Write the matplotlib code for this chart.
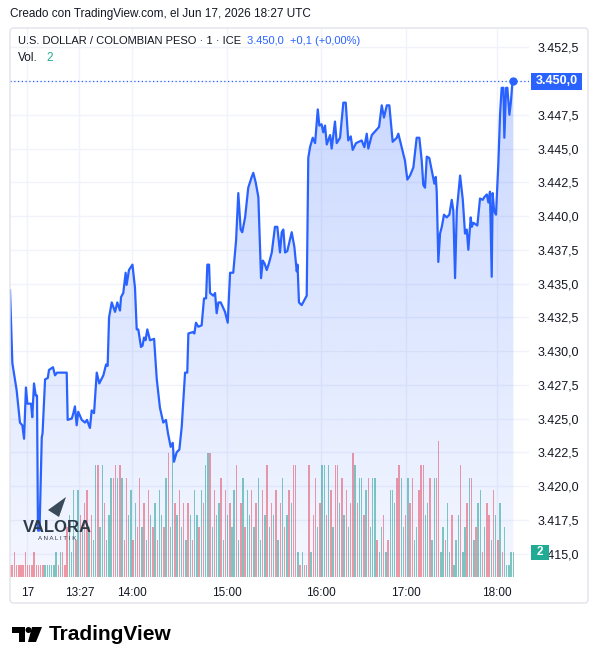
import numpy as np
import matplotlib
matplotlib.use("Agg")
import matplotlib.pyplot as plt
from matplotlib.patches import Rectangle, Polygon, Ellipse, FancyBboxPatch
from matplotlib.transforms import blended_transform_factory

plt.rcParams['font.family'] = ['Liberation Sans', 'DejaVu Sans']

# bar clock (minutes of trading since the first bar shown) and close price
t = [0, 1.5, 4.2, 6.3, 7.8, 8.9, 10.1, 11.0, 13.3, 14.1, 15.2, 16.3, 17.1, 17.7, 18.7,
     20.1, 20.6, 22.2, 23.9, 24.7, 27.2, 28.5, 29.8, 35.9, 36.5, 39.1, 39.9, 41.1, 42.2,
     43.2, 45.4, 47.5, 48.7, 50.6, 51.7, 53.2, 54.9, 56.5, 59.1, 60.8, 61.8, 62.7, 64.4,
     66.5, 67.9, 69.6, 70.3, 71.7, 73.2, 73.8, 75.3, 77.5, 79.1, 80.2, 81.2, 82.9, 83.9,
     84.8, 85.8, 86.9, 88.6, 91.2, 92.9, 94.9, 97.0, 98.7, 100.0, 101.7, 103.0, 103.8,
     105.5, 107.2, 108.7, 110.8, 112.2, 112.9, 115.6, 116.7, 117.7, 119.2, 121.3, 122.8,
     124.1, 124.9, 126.0, 126.6, 128.7, 129.8, 130.8, 131.9, 133.4, 136.1, 137.8, 139.3,
     141.3, 143.1, 144.5, 146.0, 147.0, 148.8, 150.8, 153.0, 154.0, 155.5, 157.2, 158.9,
     160.0, 161.1, 162.5, 163.9, 165.7, 167.7, 169.2, 170.9, 172.0, 173.0, 174.1, 175.5,
     178.3, 180.0, 181.5, 182.0, 182.9, 184.6, 187.8, 188.8, 189.9, 191.6, 193.1, 194.8,
     195.8, 197.2, 198.3, 199.4, 200.5, 202.6, 203.6, 205.7, 206.8, 208.9, 211.0, 212.5,
     214.1, 215.7, 216.9, 219.0, 222.6, 224.3, 225.8, 226.8, 229.0, 232.1, 233.6, 235.3,
     236.7, 238.5, 240.1, 242.2, 244.8, 245.8, 247.9, 250.0, 251.5, 253.2, 255.3, 257.4,
     259.1, 260.6, 261.6, 262.7, 263.8, 265.4, 266.9, 268.6, 269.5, 270.1, 271.1, 272.2,
     273.3, 274.7, 276.4, 278.1, 279.6, 280.6, 281.7, 282.8, 284.9, 286.6, 288.0, 289.1,
     290.1, 291.6, 292.3, 293.3, 295.8, 297.5, 299.2, 300.2, 301.8, 302.8, 303.8, 304.9,
     305.5, 306.4, 307.6, 309.1, 310.2, 311.2, 312.3, 312.9, 314.0, 314.8, 316.1, 317.0,
     318.0, 318.6]
price = [3434.5, 3429.1, 3427.1, 3424.7, 3424.5, 3423.5, 3427.3, 3426.1, 3426.1, 3425.1,
         3427.6, 3426.7, 3426.7, 3416.7, 3416.7, 3423.6, 3423.9, 3427.9, 3428.0, 3428.6,
         3428.8, 3428.2, 3428.4, 3428.4, 3424.9, 3425.0, 3425.3, 3425.9, 3424.5, 3425.5,
         3424.9, 3424.7, 3424.9, 3424.3, 3425.6, 3425.4, 3428.4, 3427.6, 3428.2, 3429.0,
         3428.9, 3432.5, 3433.6, 3432.9, 3433.6, 3433.0, 3434.0, 3434.3, 3435.8, 3434.9,
         3436.0, 3436.4, 3434.7, 3431.6, 3431.6, 3430.3, 3430.4, 3431.0, 3430.8, 3431.6,
         3430.8, 3430.9, 3427.9, 3425.8, 3424.7, 3424.9, 3423.9, 3422.9, 3423.2, 3421.8,
         3422.5, 3422.7, 3424.4, 3428.4, 3428.4, 3431.3, 3431.4, 3431.3, 3432.1, 3431.8,
         3431.9, 3433.9, 3433.9, 3436.4, 3436.4, 3434.3, 3434.1, 3434.3, 3432.8, 3433.6,
         3433.6, 3432.9, 3432.1, 3435.8, 3435.8, 3438.2, 3441.7, 3439.0, 3438.8, 3439.9,
         3442.1, 3442.9, 3443.2, 3442.5, 3441.4, 3435.4, 3436.7, 3436.5, 3436.0, 3436.5,
         3437.3, 3439.2, 3439.2, 3437.3, 3438.8, 3439.0, 3437.3, 3437.4, 3438.8, 3437.7,
         3435.9, 3436.4, 3433.6, 3433.4, 3434.1, 3444.3, 3445.1, 3445.8, 3445.4, 3447.9,
         3446.7, 3446.8, 3446.2, 3446.7, 3445.3, 3446.0, 3445.0, 3447.0, 3445.4, 3445.8,
         3448.4, 3448.4, 3445.6, 3445.9, 3444.9, 3445.4, 3445.6, 3445.1, 3446.1, 3445.0,
         3446.0, 3446.4, 3446.6, 3448.2, 3447.3, 3448.2, 3448.2, 3445.5, 3445.8, 3446.1,
         3445.1, 3444.1, 3442.7, 3443.0, 3443.6, 3445.8, 3445.8, 3444.1, 3442.3, 3442.1,
         3444.4, 3444.3, 3443.4, 3442.4, 3442.9, 3441.8, 3436.6, 3438.7, 3439.2, 3440.1,
         3439.9, 3440.1, 3441.2, 3440.4, 3435.4, 3440.4, 3443.0, 3441.2, 3438.7, 3439.0,
         3437.5, 3439.9, 3439.2, 3439.5, 3439.3, 3441.3, 3441.2, 3441.4, 3441.6, 3441.0,
         3441.8, 3435.5, 3441.7, 3440.4, 3440.1, 3443.9, 3447.6, 3449.5, 3449.5, 3445.8,
         3449.5, 3449.5, 3447.5, 3448.4, 3449.9, 3450.0]

# volume per bar (contracts) and bar direction (g = up, r = down)
vol = [1, 1, 2, 1, 1, 1, 1, 2, 1, 1,
       1, 2, 1, 1, 1, 1, 1, 1, 1, 1,
       1, 2, 1, 2, 2, 1, 4, 5, 2, 7,
       3, 7, 5, 4, 6, 7, 4, 5, 3, 9,
       9, 4, 9, 6, 3, 5, 8, 8, 9, 8,
       9, 8, 3, 8, 5, 7, 3, 6, 4, 8,
       4, 6, 3, 7, 5, 4, 6, 3, 7, 5,
       4, 8, 10, 4, 10, 6, 5, 7, 4, 6,
       3, 6, 5, 3, 7, 5, 4, 7, 6, 9,
       10, 10, 4, 7, 5, 6, 8, 3, 7, 5,
       6, 4, 7, 9, 3, 6, 8, 4, 7, 5,
       7, 4, 6, 8, 3, 7, 5, 9, 4, 6,
       5, 7, 3, 6, 8, 4, 5, 7, 6, 9,
       9, 2, 1, 2, 1, 1, 9, 2, 5, 8,
       4, 6, 9, 9, 5, 9, 7, 4, 9, 9,
       6, 8, 5, 7, 4, 6, 10, 9, 6, 8,
       8, 5, 7, 8, 4, 8, 8, 3, 2, 4,
       5, 2, 3, 7, 7, 6, 8, 9, 8, 4,
       5, 8, 6, 8, 3, 4, 7, 9, 9, 5,
       6, 8, 3, 8, 8, 11, 2, 4, 3, 6,
       2, 5, 1, 3, 5, 9, 2, 4, 6, 8,
       8, 3, 4, 6, 7, 2, 4, 6, 5, 3,
       7, 5, 3, 6, 2, 4, 1, 1, 2, 2]
vol_dir = list("rrrrrrrrrr" "rrrrrrgggg" "ggrgrrrggg" "rgrgrrgrgg" "rggrgggrrg"
               "rgrrggrgrr" "grgrgrgrgg" "rgrggrgrgr" "grgrggrgrg" "grgrggrgrg"
               "rggrgrgrgg" "rgrggrgrgr" "grgrgrgrgr" "rgrgrgrgrr" "grggrgrgrr"
               "grgrgrrgrg" "grgrgggrgg" "rgrgggrrgg" "rgrrggrrrg" "grggrrggrg"
               "grgggrggrg" "rgrggrgrrg" "rgrgrggggg")

time_ticks = [11.0, 43.9, 77.0, 137.2, 196.9, 250.7, 308.1]
time_labels = ['17', '13:27', '14:00', '15:00', '16:00', '17:00', '18:00']
price_ticks = [3415.0, 3417.5, 3420.0, 3422.5, 3425.0, 3427.5, 3430.0, 3432.5,
               3435.0, 3437.5, 3440.0, 3442.5, 3445.0, 3447.5, 3450.0, 3452.5]

BLUE = '#2962ff'
TXT = '#131722'
GRID = '#f0f3fa'
W, H = 598, 664


def fx(px):
    return px / W


def fy(py):
    return 1 - py / H


def fmt(v):
    s = f"{v:,.1f}"
    return s.replace(',', 'X').replace('.', ',').replace('X', '.')


fig = plt.figure(figsize=(W / 100, H / 100), dpi=100)
rect = [fx(10), fy(577), 519 / W, 549 / H]
ax_vol = fig.add_axes(rect)
ax = fig.add_axes(rect, sharex=ax_vol)
ax.patch.set_visible(False)

ax.set_xlim(0, 328.5)
ax.set_ylim(3413.26, 3453.93)
ax_vol.set_ylim(0, 44.3)

# grid (kept under the volume bars)
for p in time_ticks:
    ax_vol.axvline(p, color=GRID, lw=1, zorder=0)
hline_tr = blended_transform_factory(ax_vol.transAxes, ax.transData)
for p in price_ticks:
    ax_vol.plot([0, 1], [p, p], color=GRID, lw=1, zorder=0, transform=hline_tr)

# volume
vx = np.linspace(t[0], t[-1], len(vol))
cols = [(8/255, 153/255, 129/255, 0.5) if d == 'g' else (242/255, 54/255, 69/255, 0.5)
        for d in vol_dir]
ax_vol.bar(vx, vol, width=0.9, color=cols, linewidth=0, zorder=1)
ax_vol.axis('off')

# area gradient
y0, y1 = ax.get_ylim()
grad = np.zeros((256, 1, 4))
grad[..., 0], grad[..., 1], grad[..., 2] = 41 / 255, 98 / 255, 1.0
grad[:, 0, 3] = np.linspace(0.05, 0.27, 256)
poly = ax.fill_between(t, price, y0, facecolor='none', edgecolor='none')
img = ax.imshow(grad, extent=[t[0], t[-1], y0, y1], origin='lower', aspect='auto', zorder=1)
img.set_clip_path(poly.get_paths()[0], transform=ax.transData)

ax.axhline(price[-1], color=BLUE, lw=0.9, ls=(0, (1, 2)), zorder=2)
ax.plot(t, price, color=BLUE, lw=1.6, zorder=3, solid_joinstyle='round')
ax.plot(t[-1], price[-1], 'o', ms=5, color=BLUE, zorder=4)
ax.set_xlim(0, 328.5)
ax.set_ylim(y0, y1)

ax.yaxis.tick_right()
# the last-price box sits on top of its own tick, so that tick carries no text
ax.set_yticks(price_ticks, ['' if p == price[-1] else fmt(p) for p in price_ticks])
ax.set_xticks(time_ticks, time_labels)
ax.tick_params(axis='y', length=0, pad=6, labelsize=9, labelcolor=TXT)
ax.tick_params(axis='x', length=0, pad=7, labelsize=8.5, labelcolor=TXT)
for s in ax.spines.values():
    s.set_visible(False)

# last price label and volume label on the scale
ytr = blended_transform_factory(ax.transAxes, ax.transData)
ax.add_patch(Rectangle((1.004, price[-1] - 0.63), 0.099, 1.26, transform=ytr,
                       facecolor=BLUE, edgecolor='none', clip_on=False, zorder=6))
ax.text(1.0535, price[-1], fmt(price[-1]), transform=ytr, ha='center', va='center',
        color='white', fontsize=9, fontweight='bold', zorder=7, clip_on=False)
vtr = blended_transform_factory(ax.transAxes, ax_vol.transData)
ax.add_patch(Rectangle((1.003, vol[-1] - 0.6), 0.035, 1.2, transform=vtr,
                       facecolor='#22ab94', edgecolor='none', clip_on=False, zorder=6))
ax.text(1.0205, vol[-1], str(vol[-1]), transform=vtr, ha='center', va='center',
        color='white', fontsize=8.5, fontweight='bold', zorder=7, clip_on=False)

# frame
fig.patches.append(FancyBboxPatch((fx(10), fy(603)), 578 / W, 575 / H,
                                  boxstyle='round,pad=0,rounding_size=0.006',
                                  transform=fig.transFigure, fill=False,
                                  edgecolor='#e0e3eb', lw=1))

# header texts
fig.text(fx(10), fy(14), 'Creado con TradingView.com, el Jun 17, 2026 18:27 UTC',
         va='center', fontsize=8.5, color=TXT)
fig.text(fx(18), fy(41), 'U.S. DOLLAR / COLOMBIAN PESO · 1 · ICE',
         va='center', fontsize=8, color=TXT)
fig.text(fx(247), fy(41), fmt(price[-1]) + '  +0,1 (+0,00%)',
         va='center', fontsize=8, color=BLUE)
fig.text(fx(18), fy(58), 'Vol.', va='center', fontsize=8.5, color=TXT)
fig.text(fx(46), fy(58), str(vol[-1]), va='center', fontsize=8.5, color='#22ab94')

# watermark
fig.patches.append(Polygon([(fx(48), fy(510)), (fx(66), fy(497)), (fx(59), fy(517))],
                           closed=True, transform=fig.transFigure,
                           facecolor='#3a4a5a', edgecolor='none', zorder=5))
fig.text(fx(57), fy(527), 'VALORA', ha='center', va='center', fontsize=12,
         fontweight='bold', color='#2d3b48', zorder=5)
fig.text(fx(57), fy(539), 'A N A L I T I K', ha='center', va='center', fontsize=4.5,
         color='#2d3b48', zorder=5)

# TradingView logo
fig.patches.append(Polygon([(fx(12), fy(627)), (fx(25), fy(627)), (fx(25), fy(642)),
                            (fx(19), fy(642)), (fx(19), fy(633)), (fx(12), fy(633))],
                           closed=True, transform=fig.transFigure, facecolor='black'))
fig.patches.append(Ellipse((fx(28.5), fy(630)), 6 / W, 6 / H,
                           transform=fig.transFigure, facecolor='black'))
fig.patches.append(Polygon([(fx(32), fy(627)), (fx(42), fy(627)), (fx(36), fy(642)),
                            (fx(28), fy(642))],
                           closed=True, transform=fig.transFigure, facecolor='black'))
fig.text(fx(49), fy(634), 'TradingView', va='center', fontsize=15,
         fontweight='bold', color='black')

fig.savefig('out.png', dpi=100)
